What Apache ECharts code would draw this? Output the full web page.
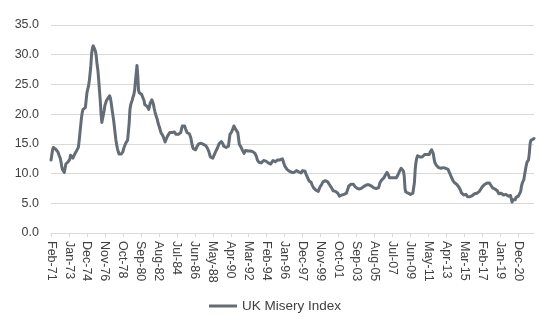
<!DOCTYPE html>
<html>
<head>
<meta charset="utf-8">
<script src="https://cdn.jsdelivr.net/npm/echarts@6/dist/echarts.min.js"></script>
<style>html,body{margin:0;padding:0;background:#fff}#c{width:550px;height:330px}</style>
</head>
<body>
<div id="c"></div>
<script>
// Monthly series, Feb-1971 .. Aug-2022
const startYear = 1971;
const startMonthIndex = 1; // Feb
const monthNames = ['Jan','Feb','Mar','Apr','May','Jun','Jul','Aug','Sep','Oct','Nov','Dec'];
const seriesName = 'UK Misery Index';
const yTicks = [0, 5, 10, 15, 20, 25, 30, 35];

const misery = [
  /*1971*/ 12.3,13.1,14.0,14.4,14.6,14.5,14.1,13.9,13.8,13.6,13.2,
  /*1972*/ 12.9,12.5,11.8,11.0,10.6,10.4,10.2,10.9,11.6,11.9,11.7,12.0,
  /*1973*/ 11.9,12.4,13.1,13.2,12.8,12.6,12.7,13.2,13.5,13.4,13.9,14.2,
  /*1974*/ 14.4,15.5,16.8,18.1,19.4,20.3,20.8,20.9,20.8,21.1,22.4,23.6,
  /*1975*/ 24.2,24.7,25.6,26.8,28.2,30.2,31.1,31.5,31.4,30.9,30.5,29.6,
  /*1976*/ 28.3,27.4,25.8,24.0,22.3,20.2,18.6,18.9,19.9,20.6,21.5,21.9,
  /*1977*/ 22.3,22.0,22.7,23.0,23.1,22.7,21.9,20.9,20.0,19.1,18.0,16.8,
  /*1978*/ 15.7,14.9,14.2,13.7,13.3,13.2,13.4,13.3,13.5,13.7,14.2,14.6,
  /*1979*/ 14.9,15.2,15.4,15.6,15.8,18.5,20.8,21.6,22.0,22.4,22.9,23.3,
  /*1980*/ 24.0,25.5,26.8,28.2,26.5,24.0,23.6,23.4,23.5,23.3,23.0,23.0,
  /*1981*/ 22.3,21.6,21.5,21.4,21.3,21.0,20.8,21.3,21.9,22.2,22.4,22.3,
  /*1982*/ 21.7,21.0,20.4,19.9,19.6,19.1,18.5,18.1,17.7,17.2,16.8,16.6,
  /*1983*/ 16.4,16.3,15.7,15.3,15.6,16.0,16.3,16.5,16.6,16.9,16.8,16.8,
  /*1984*/ 16.9,17.0,16.9,17.0,16.8,16.6,16.5,16.7,16.6,16.5,16.3,16.9,
  /*1985*/ 17.5,18.0,18.3,18.2,18.0,17.6,17.4,16.9,16.8,16.9,16.7,16.6,
  /*1986*/ 16.0,15.2,14.6,14.2,14.0,13.9,14.0,14.3,14.6,14.8,15.0,15.0,
  /*1987*/ 15.0,15.1,15.0,14.9,14.9,14.8,14.7,14.7,14.6,14.3,14.0,13.7,
  /*1988*/ 13.2,12.8,12.6,12.5,12.6,12.9,13.2,13.5,13.8,14.1,14.3,14.6,
  /*1989*/ 15.0,15.2,15.3,15.4,15.3,15.0,14.6,14.5,14.6,14.4,14.5,14.6,
  /*1990*/ 14.6,15.6,16.6,16.9,17.0,17.1,17.6,18.0,18.2,17.8,17.3,17.1,
  /*1991*/ 16.9,15.9,14.9,14.6,14.5,14.3,13.9,13.6,13.4,13.7,13.9,14.0,
  /*1992*/ 13.9,13.8,13.9,13.8,13.8,13.7,13.6,13.7,13.6,13.5,13.4,13.2,
  /*1993*/ 12.8,12.3,12.0,11.9,11.8,11.7,11.8,11.8,12.0,12.2,12.3,12.2,
  /*1994*/ 12.1,12.1,11.9,11.8,11.7,11.9,11.6,11.5,11.8,12.2,12.1,12.2,
  /*1995*/ 12.0,11.8,12.1,12.3,12.2,12.4,12.3,12.2,12.4,12.5,12.1,11.7,
  /*1996*/ 11.3,11.2,11.0,10.7,10.5,10.6,10.4,10.3,10.3,10.2,10.4,10.3,
  /*1997*/ 10.2,10.1,10.2,10.5,10.4,10.4,10.3,10.1,10.0,10.1,10.3,10.5,
  /*1998*/ 10.2,10.5,10.4,10.0,9.7,9.4,9.1,8.8,8.7,8.6,8.5,8.1,
  /*1999*/ 7.8,7.6,7.5,7.4,7.2,7.1,7.0,7.0,7.3,7.7,7.9,8.1,
  /*2000*/ 8.4,8.6,8.7,8.7,8.8,8.6,8.5,8.6,8.6,8.3,8.0,7.8,
  /*2001*/ 7.6,7.4,7.1,6.9,6.8,7.0,6.7,6.8,6.7,6.4,6.2,6.0,
  /*2002*/ 6.3,6.4,6.2,6.6,6.5,6.4,6.6,6.7,7.1,7.5,7.9,8.1,
  /*2003*/ 8.0,8.2,8.3,8.3,8.2,8.0,7.8,7.6,7.7,7.5,7.4,7.3,
  /*2004*/ 7.4,7.3,7.5,7.6,7.7,7.8,7.9,7.9,8.0,8.1,8.1,8.2,
  /*2005*/ 8.1,8.0,7.9,7.9,7.8,7.8,7.6,7.7,7.6,7.5,7.4,7.5,
  /*2006*/ 7.6,8.0,8.5,8.7,8.9,9.0,9.2,9.3,9.6,9.8,10.0,10.2,
  /*2007*/ 10.1,9.7,9.3,9.4,9.2,9.3,9.3,9.2,9.3,9.4,9.3,9.3,
  /*2008*/ 9.4,9.8,10.1,10.4,10.6,10.9,11.0,10.9,10.4,9.5,7.4,6.9,
  /*2009*/ 6.8,6.7,6.7,6.6,6.5,6.5,6.5,6.6,6.7,6.7,8.5,10.7,
  /*2010*/ 11.9,12.6,13.0,13.2,13.0,12.8,12.6,12.6,12.8,13.0,13.0,13.2,
  /*2011*/ 13.4,13.4,13.2,13.3,13.2,13.2,13.6,13.8,14.0,13.9,13.4,12.6,
  /*2012*/ 11.9,11.6,11.4,11.3,11.3,11.0,10.8,10.7,10.9,11.1,11.1,11.0,
  /*2013*/ 10.9,10.9,10.9,10.8,10.8,10.7,10.4,10.1,9.8,9.5,9.2,8.9,
  /*2014*/ 8.7,8.5,8.4,8.3,8.2,8.1,8.1,7.7,7.4,7.2,6.8,6.5,
  /*2015*/ 6.5,6.4,6.5,6.5,6.5,6.3,6.1,6.0,5.9,6.1,6.2,6.3,
  /*2016*/ 6.3,6.4,6.5,6.6,6.5,6.6,6.7,6.8,6.8,7.0,7.2,7.4,
  /*2017*/ 7.6,7.8,8.0,8.1,8.2,8.2,8.3,8.4,8.4,8.5,8.4,8.4,
  /*2018*/ 8.0,7.8,7.6,7.5,7.4,7.4,7.3,7.3,7.1,6.8,6.6,6.5,
  /*2019*/ 6.5,6.7,6.8,6.6,6.4,6.2,6.4,6.5,6.3,6.5,6.2,6.0,
  /*2020*/ 5.9,6.3,5.7,5.2,5.6,5.9,5.5,5.6,6.0,6.1,6.2,6.2,
  /*2021*/ 6.2,6.3,7.0,7.9,8.4,8.7,9.0,9.8,10.6,11.3,11.9,12.1,
  /*2022*/ 12.3,13.4,15.0,15.6,15.8,15.9,15.8,15.9
];

const categories = misery.map((_, i) => {
  const t = startMonthIndex + i;
  const y = startYear + Math.floor(t / 12);
  return monthNames[t % 12] + '-' + String(y % 100).padStart(2, '0');
});

const chart = echarts.init(document.getElementById('c'), null, {renderer: 'canvas'});
const textColor = '#404040';
const lineColor = '#646c75';
const font = 'Liberation Sans, Arial, sans-serif';
chart.setOption({
  animation: false,
  backgroundColor: '#ffffff',
  textStyle: {fontFamily: font},
  grid: {left: 51, right: 16, top: 25, bottom: 97, containLabel: false},
  legend: {
    data: [{name: seriesName, icon: 'rect'}],
    bottom: 12,
    left: 'center',
    itemWidth: 28,
    itemHeight: 3,
    itemGap: 2,
    itemStyle: {color: lineColor},
    textStyle: {color: textColor, fontSize: 13.5, fontFamily: font, padding: [0, 0, 0, 0]}
  },
  xAxis: {
    type: 'category',
    data: categories,
    boundaryGap: false,
    axisLine: {lineStyle: {color: '#d9d9d9', width: 1}},
    axisTick: {show: true, interval: 22, length: 4, lineStyle: {color: '#d9d9d9'}},
    axisLabel: {interval: 22, rotate: -90, margin: 8, color: textColor, fontSize: 12.5, fontFamily: font},
    splitLine: {show: false}
  },
  yAxis: {
    type: 'value',
    min: yTicks[0],
    max: yTicks[yTicks.length - 1],
    interval: 5,
    axisLine: {show: false},
    axisTick: {show: false},
    axisLabel: {margin: 12, color: textColor, fontSize: 12.5, fontFamily: font, formatter: v => v.toFixed(1)},
    splitLine: {lineStyle: {color: '#d9d9d9', width: 1}}
  },
  series: [{
    name: seriesName,
    type: 'line',
    data: misery,
    symbol: 'none',
    lineStyle: {color: lineColor, width: 3, join: 'round', cap: 'round'},
    itemStyle: {color: lineColor}
  }]
});
</script>
</body>
</html>
